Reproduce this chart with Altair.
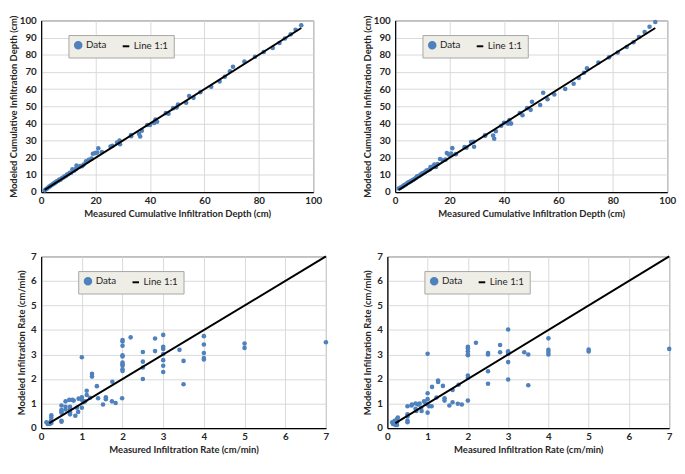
import altair as alt
import pandas as pd

# ---------------- data ----------------
# Top row: cumulative infiltration depth (cm)
depth_measured = [1.3, 1.8, 2.2, 2.6, 3.0, 3.3, 3.7, 4.0, 4.4, 4.8, 5.1, 5.5, 5.9, 6.3, 6.7, 7.1,
                  7.6, 8.0, 8.5, 9.0, 9.5, 10.0, 10.5, 11.0, 11.5, 12.2, 12.8, 13.0, 13.8, 14.4,
                  15.0, 15.6, 16.5, 17.5, 18.5, 19.0, 19.8, 20.6, 21.0, 22.3, 25.5, 26.2, 27.9,
                  28.8, 29.0, 33.0, 33.1, 36.0, 36.4, 37.0, 39.0, 40.0, 41.5, 42.0, 42.6, 45.8,
                  46.8, 48.5, 49.8, 50.3, 53.3, 54.4, 56.0, 58.5, 62.5, 65.6, 67.5, 69.4, 70.5,
                  74.7, 78.6, 81.8, 85.1, 87.6, 89.6, 91.7, 93.5, 95.6]
depth_modeled_a = [1.0, 1.6, 2.1, 2.7, 3.2, 3.4, 4.0, 4.3, 4.8, 5.0, 5.6, 5.8, 6.5, 6.6, 7.3, 7.2,
                   8.1, 8.3, 9.1, 9.2, 10.2, 10.4, 11.2, 11.3, 13.3, 12.6, 13.5, 15.5, 14.6, 15.2,
                   15.0, 16.0, 18.0, 18.8, 19.5, 22.3, 22.7, 23.0, 25.5, 23.4, 26.6, 26.9, 28.8,
                   30.1, 27.9, 33.3, 32.5, 33.9, 32.4, 35.8, 39.1, 39.1, 40.3, 42.3, 41.0, 46.0,
                   45.6, 48.9, 49.3, 51.0, 52.0, 56.0, 54.9, 58.2, 61.4, 64.4, 67.2, 70.4, 73.0,
                   76.0, 78.8, 81.6, 84.0, 86.9, 89.5, 91.9, 94.6, 97.2]
depth_modeled_b = [2.1, 2.4, 2.8, 3.1, 3.6, 3.9, 4.3, 4.6, 5.1, 5.6, 5.7, 6.2, 6.4, 6.9, 7.2, 7.6,
                   8.2, 9.0, 9.3, 9.6, 10.3, 10.9, 11.2, 11.7, 12.5, 12.8, 13.3, 14.6, 14.9, 16.1,
                   14.6, 16.4, 19.3, 18.5, 18.9, 22.7, 21.7, 22.5, 25.6, 22.1, 26.2, 25.8, 29.2,
                   29.3, 26.4, 33.1, 32.8, 33.0, 31.1, 35.4, 38.6, 40.4, 39.9, 42.0, 39.9, 46.1,
                   44.8, 48.9, 47.9, 52.6, 50.7, 57.9, 54.1, 56.9, 60.1, 63.1, 66.5, 69.5, 72.1,
                   75.5, 78.5, 81.3, 84.5, 87.3, 90.4, 93.3, 96.3, 99.1]
depth_line = [1.3, 95.6]

# Bottom row: infiltration rate (cm/min)
rate_measured_a = [0.13, 0.16, 0.21, 0.25, 0.24, 0.25, 0.25, 0.18, 0.5, 0.5, 0.5, 0.5, 0.5, 0.5,
                   0.6, 0.6, 0.6, 0.69, 0.71, 0.71, 0.71, 0.71, 0.77, 0.8, 0.84, 0.88, 0.91, 0.92,
                   1.0, 1.0, 1.0, 1.04, 1.08, 1.0, 1.12, 1.12, 1.2, 1.25, 1.25, 1.37, 1.4, 1.52,
                   1.59, 1.59, 1.74, 1.75, 1.83, 1.99, 2.0, 2.0, 2.0, 2.0, 2.0, 2.0, 2.0, 2.0, 2.0,
                   2.0, 2.2, 2.5, 2.5, 2.5, 2.5, 2.8, 2.8, 3.0, 3.0, 3.0, 3.0, 3.0, 3.0, 3.0, 3.4,
                   3.5, 3.5, 4.0, 4.0, 4.0, 4.0, 4.0, 5.0, 5.0, 7.0]
rate_modeled_a = [0.24, 0.17, 0.17, 0.21, 0.3, 0.43, 0.52, 0.2, 0.92, 0.63, 0.74, 0.68, 0.3, 0.26,
                  1.09, 0.87, 0.76, 1.15, 0.76, 0.56, 0.87, 0.65, 1.15, 1.12, 0.5, 0.83, 0.66, 1.2,
                  0.83, 1.26, 1.16, 1.05, 1.09, 2.89, 1.52, 1.35, 1.24, 2.21, 2.1, 1.71, 1.22, 0.96,
                  1.26, 1.18, 1.09, 1.89, 1.02, 1.22, 3.59, 3.53, 3.36, 2.97, 2.92, 2.67, 2.6, 2.54,
                  2.4, 2.33, 3.7, 3.1, 2.71, 2.47, 2.0, 3.65, 3.14, 3.8, 3.32, 3.23, 3.02, 2.77,
                  2.54, 2.29, 3.19, 2.74, 1.79, 3.75, 3.41, 3.06, 2.86, 2.8, 3.45, 3.27, 3.5]
rate_measured_b = [0.12, 0.14, 0.2, 0.24, 0.24, 0.26, 0.18, 0.24, 0.5, 0.5, 0.5, 0.5, 0.5, 0.6,
                   0.61, 0.7, 0.7, 0.72, 0.76, 0.8, 0.84, 0.85, 0.91, 0.95, 1.0, 1.0, 1.0, 1.0, 1.0,
                   1.04, 1.1, 1.11, 1.22, 1.26, 1.26, 1.38, 1.42, 1.42, 1.54, 1.62, 1.62, 1.75, 1.77,
                   1.85, 2.0, 2.0, 2.0, 2.0, 2.0, 2.0, 2.0, 2.0, 2.2, 2.5, 2.5, 2.5, 2.5, 2.8, 2.8,
                   3.0, 3.0, 3.0, 3.0, 3.0, 3.0, 3.4, 3.5, 3.5, 4.0, 4.0, 4.0, 4.0, 5.0, 5.0, 7.0]
rate_modeled_b = [0.24, 0.17, 0.13, 0.24, 0.37, 0.43, 0.3, 0.13, 0.89, 0.56, 0.47, 0.3, 0.24, 0.92,
                  0.96, 1.0, 0.79, 0.7, 0.96, 1.0, 0.83, 0.7, 1.09, 1.0, 3.03, 1.42, 1.18, 0.96, 0.63,
                  0.89, 0.89, 1.68, 1.25, 1.94, 1.88, 1.72, 1.22, 1.12, 0.92, 1.55, 1.05, 0.99, 1.77,
                  0.96, 1.12, 3.32, 3.26, 3.13, 2.97, 3.0, 2.14, 2.05, 3.48, 3.06, 3.0, 2.32, 1.81,
                  3.39, 3.09, 4.02, 3.13, 3.08, 3.02, 2.69, 1.98, 3.09, 3.0, 1.75, 3.66, 3.19, 3.1,
                  3.0, 3.2, 3.12, 3.23]
rate_line = [0.2, 7.0]

series_names = ["Data", "Line 1:1"]

# ---------------- styling ----------------
BLUE = "#4F81BD"
FONT = "Lato"
TXT = "#262626"


def panel(mx, my, line_vals, xmax, ymax, xstep, ystep, xtitle, ytitle, w, h,
          y_extent, legend_x, legend_y):
    df = pd.DataFrame({"measured": mx, "modeled": my, "series": "Data"})
    ldf = pd.DataFrame({"measured": line_vals, "modeled": line_vals, "series": "Line 1:1"})
    xenc = alt.X("measured:Q",
                 scale=alt.Scale(domain=[0, xmax], nice=False),
                 axis=alt.Axis(title=xtitle, values=list(range(0, xmax + 1, xstep)),
                               labelPadding=4, titlePadding=3, labelFlush=False))
    yenc = alt.Y("modeled:Q",
                 scale=alt.Scale(domain=[0, ymax], nice=False),
                 axis=alt.Axis(title=ytitle, values=list(range(0, ymax + 1, ystep)),
                               labelPadding=5, titlePadding=3, labelFlush=False,
                               minExtent=y_extent, maxExtent=y_extent))
    leg = alt.Legend(
        title=None, orient="none", legendX=legend_x, legendY=legend_y,
        direction="horizontal", fillColor="#EEEDE6", strokeColor="#A6A6A6",
        padding=5, labelFont=FONT, labelFontSize=10, labelColor=TXT,
        labelOffset=3, columnPadding=12, symbolSize=45, symbolStrokeWidth=2,
    )
    color = alt.Color("series:N",
                      scale=alt.Scale(domain=series_names, range=[BLUE, "black"]),
                      legend=leg)
    shape = alt.Shape("series:N",
                      scale=alt.Scale(domain=series_names, range=["circle", "stroke"]),
                      legend=leg)
    pts = alt.Chart(df).mark_point(filled=True, size=22, opacity=1).encode(
        x=xenc, y=yenc, color=color, shape=shape)
    line = alt.Chart(ldf).mark_line(strokeWidth=2).encode(x=xenc, y=yenc, color=color)
    return alt.layer(pts, line).properties(width=w, height=h)


p1 = panel(depth_measured, depth_modeled_a, depth_line, 100, 100, 20, 10,
           "Measured Cumulative Infiltration Depth (cm)",
           "Modeled Cumulative Infiltration Depth (cm)", 279, 176, 20, 28, 15)
p2 = panel(depth_measured, depth_modeled_b, depth_line, 100, 100, 20, 10,
           "Measured Cumulative Infiltration Depth (cm)",
           "Modeled Cumulative Infiltration Depth (cm)", 279, 176, 20, 28, 15)
p3 = panel(rate_measured_a, rate_modeled_a, rate_line, 7, 7, 1, 1,
           "Measured Infiltration Rate (cm/min)",
           "Modeled Infiltration Rate (cm/min)", 292, 176, 12, 38, 15)
p4 = panel(rate_measured_b, rate_modeled_b, rate_line, 7, 7, 1, 1,
           "Measured Infiltration Rate (cm/min)",
           "Modeled Infiltration Rate (cm/min)", 289, 176, 12, 38, 15)

chart = alt.concat(p1, p2, p3, p4, columns=2, spacing=32).properties(
    align="none",
    padding=0,
    background="white",
).resolve_scale(
    color="independent", shape="independent"
).configure_view(
    stroke="#595959", strokeWidth=1
).configure_axis(
    labelFont=FONT, labelFontSize=10, labelFontWeight="bold", labelColor=TXT,
    titleFont=FONT, titleFontSize=9.7, titleFontWeight="bold", titleColor=TXT,
    grid=True, gridColor="#D9D9D9", gridWidth=1,
    domainColor="black", domainWidth=1.2, ticks=False,
)

chart.save("out.html", embed_options={"renderer": "svg", "actions": False})
